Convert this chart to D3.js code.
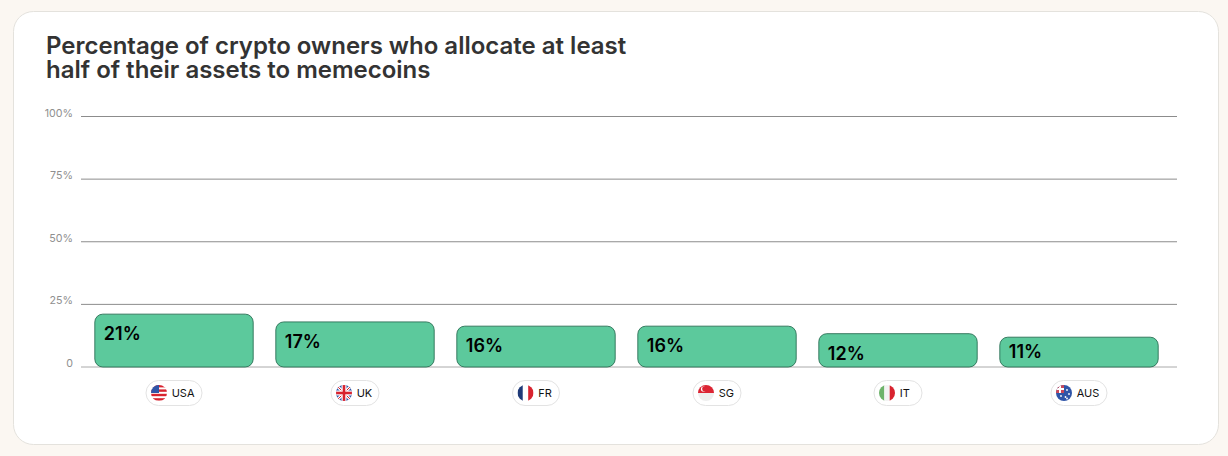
<!DOCTYPE html>
<html><head><meta charset="utf-8">
<script src="https://cdn.jsdelivr.net/npm/d3@7/dist/d3.min.js"></script>
<style>html,body{margin:0;padding:0;background:#fbf7f2;overflow:hidden}svg{display:block}text{font-family:Inter,sans-serif}</style>
</head><body><svg id="c" width="1228" height="456"></svg>
<script>
const titleLines=["Percentage of crypto owners who allocate at least","half of their assets to memecoins"];
const countries=["USA","UK","FR","SG","IT","AUS"];
const valueLabels=["21%","17%","16%","16%","12%","11%"];
const barHeights=[21.1,18,16.3,16.3,13.3,11.9];
const yTicks=[0,25,50,75,100];
const pillWidths=[56,48,47,48,48,56];

const svg=d3.select("#c");
svg.append("rect").attr("x",13.5).attr("y",11.5).attr("width",1205).attr("height",433).attr("rx",20)
  .attr("fill","#fff").attr("stroke","#e4e2dd");
svg.append("g").selectAll("text").data(titleLines).join("text")
  .attr("x",46).attr("y",(d,i)=>54+i*24).attr("font-size",24).attr("font-weight",600).attr("fill","#333").text(d=>d);

const y=d3.scaleLinear().domain([0,100]).range([366.5,116]);
const x=d3.scaleBand().domain(countries).range([83.5,1169.5]).paddingInner(0.125).paddingOuter(0.0625);

const ax=svg.append("g").attr("transform","translate(81,0)")
  .call(d3.axisLeft(y).tickValues(yTicks).tickSize(0).tickPadding(8).tickFormat(d=>d===0?"0":d+"%"));
ax.select(".domain").remove();
ax.selectAll("text").attr("font-size",10.7).attr("fill","#8f8f8f").attr("dy","0em").style("font-family","Inter,sans-serif");
ax.selectAll(".tick line").attr("x2",1096).attr("stroke",d=>d===0?"#aaa":"#8c8c8c").attr("stroke-width",1);

const bars=svg.append("g").attr("transform","translate(0,0.5)");
bars.selectAll("rect").data(countries).join("rect")
  .attr("x",d=>x(d)).attr("width",x.bandwidth())
  .attr("y",(d,i)=>y(barHeights[i])).attr("height",(d,i)=>y(0)-y(barHeights[i]))
  .attr("rx",8).attr("fill","#5cc99c").attr("stroke","#2a6f55").attr("stroke-width",0.9);
bars.selectAll("text").data(countries).join("text")
  .attr("x",d=>x(d)+9).attr("y",(d,i)=>y(barHeights[i])+(d==="AUS"?21:26))
  .attr("font-size",18).attr("font-weight",600).attr("fill","#000").text((d,i)=>valueLabels[i]);

const defs=svg.append("defs");
const red="#d8232f",blue="#2f55a8";
const flags={
 USA(g){g.append("rect").attr("x",-8).attr("y",-8).attr("width",16).attr("height",16).attr("fill","#fff");
   [-8,-3.6,0.8,5.2].forEach(t=>g.append("rect").attr("x",-8).attr("y",t).attr("width",16).attr("height",2.4).attr("fill",red));
   g.append("rect").attr("x",-8).attr("y",-8).attr("width",8).attr("height",8).attr("fill",blue);},
 UK(g){g.append("rect").attr("x",-8).attr("y",-8).attr("width",16).attr("height",16).attr("fill",blue);
   [[-8,-8,8,8],[-8,8,8,-8]].forEach(l=>{g.append("line").attr("x1",l[0]).attr("y1",l[1]).attr("x2",l[2]).attr("y2",l[3]).attr("stroke","#fff").attr("stroke-width",3);
     g.append("line").attr("x1",l[0]).attr("y1",l[1]).attr("x2",l[2]).attr("y2",l[3]).attr("stroke",red).attr("stroke-width",1);});
   g.append("rect").attr("x",-8).attr("y",-2.5).attr("width",16).attr("height",5).attr("fill","#fff");
   g.append("rect").attr("x",-2.5).attr("y",-8).attr("width",5).attr("height",16).attr("fill","#fff");
   g.append("rect").attr("x",-8).attr("y",-1.3).attr("width",16).attr("height",2.6).attr("fill",red);
   g.append("rect").attr("x",-1.3).attr("y",-8).attr("width",2.6).attr("height",16).attr("fill",red);},
 FR(g){[["#1f3a78",-8],["#fff",-2.7],[red,2.7]].forEach(c=>g.append("rect").attr("x",c[1]).attr("y",-8).attr("width",5.4).attr("height",16).attr("fill",c[0]));},
 SG(g){g.append("rect").attr("x",-8).attr("y",-8).attr("width",16).attr("height",16).attr("fill","#eee");
   g.append("rect").attr("x",-8).attr("y",-8).attr("width",16).attr("height",8).attr("fill","#dc2433");
   g.append("circle").attr("cx",-2.5).attr("cy",-4).attr("r",2.6).attr("fill","#fff");
   g.append("circle").attr("cx",-1.5).attr("cy",-4).attr("r",2.4).attr("fill","#dc2433");},
 IT(g){[["#6db36a",-8],["#f3f3f3",-2.7],[red,2.7]].forEach(c=>g.append("rect").attr("x",c[1]).attr("y",-8).attr("width",5.4).attr("height",16).attr("fill",c[0]));},
 AUS(g){g.append("rect").attr("x",-8).attr("y",-8).attr("width",16).attr("height",16).attr("fill",blue);
   g.append("rect").attr("x",-8).attr("y",-8).attr("width",8).attr("height",8).attr("fill","#c9485a");
   g.append("rect").attr("x",-8).attr("y",-5).attr("width",8).attr("height",2).attr("fill","#fff");
   g.append("rect").attr("x",-5).attr("y",-8).attr("width",2).attr("height",8).attr("fill","#fff");
   [[3,-3],[5,1],[1.5,4],[-3,3],[3,5.5]].forEach(p=>g.append("circle").attr("cx",p[0]).attr("cy",p[1]).attr("r",0.9).attr("fill","#fff"));}
};
countries.forEach((c,i)=>{
  const w=pillWidths[i],cx=x(c)+x.bandwidth()/2,left=cx-w/2;
  const g=svg.append("g").attr("transform",`translate(${left},393)`);
  g.append("rect").attr("x",0).attr("y",-12.5).attr("width",w).attr("height",25).attr("rx",12.5).attr("fill","#fff").attr("stroke","#e3e3e3");
  defs.append("clipPath").attr("id","clip"+c).append("circle").attr("r",8);
  const f=g.append("g").attr("transform","translate(13,0)");
  const inner=f.append("g").attr("clip-path",`url(#clip${c})`);
  flags[c](inner);
  g.append("text").attr("x",25.7).attr("y",4).attr("font-size",11).attr("font-weight",400).attr("fill","#111").text(c);
});
</script></body></html>
